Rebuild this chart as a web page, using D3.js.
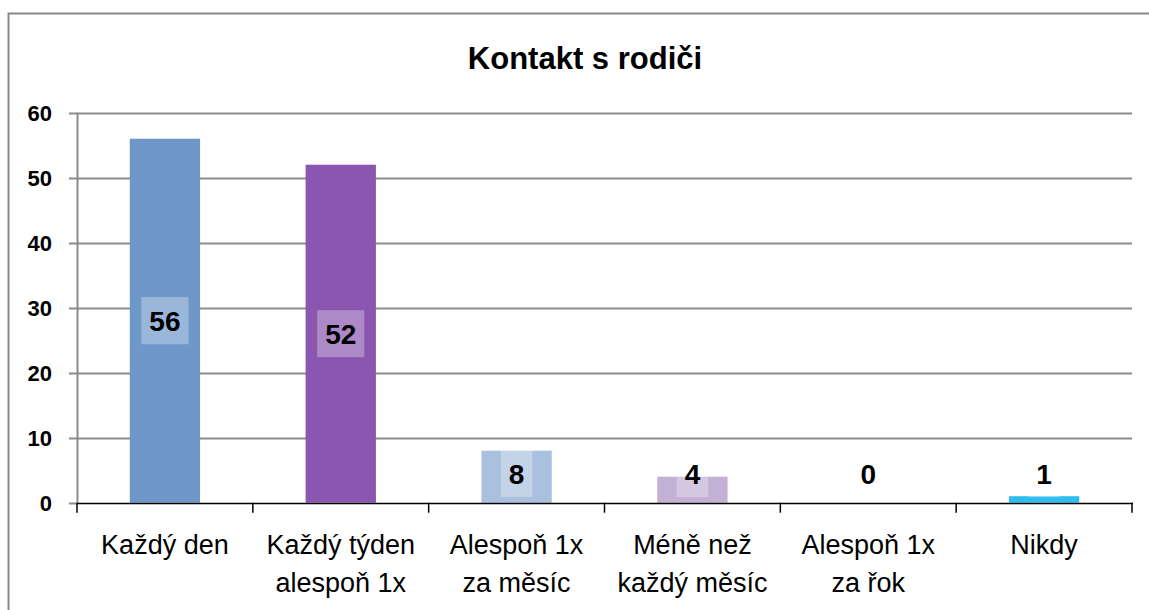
<!DOCTYPE html>
<html>
<head>
<meta charset="utf-8">
<script src="https://cdn.jsdelivr.net/npm/d3@7"></script>
<style>
  body { margin: 0; background: #fff; }
  text { font-family: "Liberation Sans", Arial, sans-serif; }
</style>
</head>
<body>
<svg id="chart" width="1149" height="610"></svg>
<script>
"use strict";

// data
var categories = ["Každý den", "Každý týden alespoň 1x", "Alespoň 1x za měsíc",
                  "Méně než každý měsíc", "Alespoň 1x za řok", "Nikdy"];
var categoryLines = [["Každý den"], ["Každý týden", "alespoň 1x"], ["Alespoň 1x", "za měsíc"],
                     ["Méně než", "každý měsíc"], ["Alespoň 1x", "za řok"], ["Nikdy"]];
var values = [56, 52, 8, 4, 0, 1];
var barColors = ["#6f98c9", "#8b56b0", "#aac0df", "#c2b0d5", "#9bbb59", "#2ebdee"];
var yTicks = [0, 10, 20, 30, 40, 50, 60];

var svg = d3.select("#chart");

var plotLeft = 77, plotRight = 1132, plotTop = 112.7, plotBottom = 502.7;

var x = d3.scaleBand()
    .domain(categories)
    .range([plotLeft, plotRight])
    .paddingInner(0.6)
    .paddingOuter(0.3);

var y = d3.scaleLinear()
    .domain([0, 60])
    .range([plotBottom, plotTop]);

// outer frame (only top and left edges are visible)
svg.append("path")
    .attr("d", "M8.5,620 V13.5 H1149")
    .attr("fill", "none")
    .attr("stroke", "#888")
    .attr("stroke-width", 2);

// title
svg.append("text")
    .attr("x", 585).attr("y", 69)
    .attr("text-anchor", "middle")
    .attr("font-size", 31)
    .attr("font-weight", "bold")
    .text("Kontakt s rodiči");

// gridlines + y labels
var grid = svg.append("g");
yTicks.forEach(function (t) {
    grid.append("line")
        .attr("x1", plotLeft - 8).attr("x2", t > 0 ? plotRight : plotLeft)
        .attr("y1", Math.round(y(t)) + 0.5).attr("y2", Math.round(y(t)) + 0.5)
        .attr("stroke", "#8c8c8c")
        .attr("stroke-width", 2);
    grid.append("text")
        .attr("x", 52).attr("y", y(t) + 8)
        .attr("text-anchor", "end")
        .attr("font-size", 22)
        .attr("font-weight", "bold")
        .text(t);
});

// y axis line
svg.append("line")
    .attr("x1", plotLeft + 0.5).attr("x2", plotLeft + 0.5)
    .attr("y1", plotTop).attr("y2", plotBottom)
    .attr("stroke", "#8c8c8c")
    .attr("stroke-width", 2);

// bars
svg.append("g").selectAll("rect")
    .data(values)
    .enter().append("rect")
    .attr("x", function (d, i) { return x(categories[i]); })
    .attr("y", function (d) { return y(d); })
    .attr("width", x.bandwidth())
    .attr("height", function (d) { return y(0) - y(d); })
    .attr("fill", function (d, i) { return barColors[i]; });

// x axis line + ticks
svg.append("line")
    .attr("x1", plotLeft).attr("x2", plotRight + 1)
    .attr("y1", Math.round(y(0)) + 0.5).attr("y2", Math.round(y(0)) + 0.5)
    .attr("stroke", "#000")
    .attr("stroke-width", 1.5);

var step = x.step();
var boundaries = d3.range(categories.length + 1).map(function (i) {
    return i === 0 ? plotLeft : x(categories[i - 1]) + x.bandwidth() + step * 0.3;
});
boundaries.forEach(function (b) {
    svg.append("line")
        .attr("x1", b).attr("x2", b)
        .attr("y1", y(0)).attr("y2", y(0) + 10)
        .attr("stroke", "#000")
        .attr("stroke-width", 1.5);
});

// category labels
categoryLines.forEach(function (lines, i) {
    var t = svg.append("text")
        .attr("text-anchor", "middle")
        .attr("font-size", 27);
    lines.forEach(function (ln, j) {
        t.append("tspan")
            .attr("x", x(categories[i]) + x.bandwidth() / 2)
            .attr("y", 554 + j * 37.5)
            .text(ln);
    });
});

// data labels
var labelG = svg.append("g");
values.forEach(function (d, i) {
    var cx = x(categories[i]) + x.bandwidth() / 2;
    var cy = Math.min(y(d / 2), y(0) - 29);
    var g = labelG.append("g");
    var box = g.append("rect");
    var txt = g.append("text")
        .attr("x", cx).attr("y", cy + 10)
        .attr("text-anchor", "middle")
        .attr("font-size", 28)
        .attr("font-weight", "bold")
        .text(d);
    var w = txt.node().getComputedTextLength() + 16;
    if (d > 0) {
        box.attr("x", cx - w / 2).attr("y", cy - 23.5)
            .attr("width", w).attr("height", 47)
            .attr("fill", "#fff")
            .attr("fill-opacity", 0.3);
    }
});
</script>
</body>
</html>
